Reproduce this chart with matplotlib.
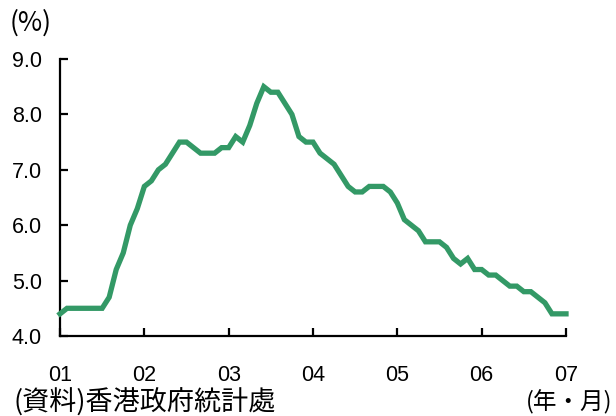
import matplotlib
matplotlib.use("Agg")
import matplotlib.pyplot as plt
import numpy as np

# Monthly unemployment rate (%), Jan 2001 .. Jan 2007
rates = [
    4.4, 4.5, 4.5, 4.5, 4.5, 4.5, 4.5, 4.7, 5.2, 5.5, 6.0, 6.3,   # 2001
    6.7, 6.8, 7.0, 7.1, 7.3, 7.5, 7.5, 7.4, 7.3, 7.3, 7.3, 7.4,   # 2002
    7.4, 7.6, 7.5, 7.8, 8.2, 8.5, 8.4, 8.4, 8.2, 8.0, 7.6, 7.5,   # 2003
    7.5, 7.3, 7.2, 7.1, 6.9, 6.7, 6.6, 6.6, 6.7, 6.7, 6.7, 6.6,   # 2004
    6.4, 6.1, 6.0, 5.9, 5.7, 5.7, 5.7, 5.6, 5.4, 5.3, 5.4, 5.2,   # 2005
    5.2, 5.1, 5.1, 5.0, 4.9, 4.9, 4.8, 4.8, 4.7, 4.6, 4.4, 4.4,   # 2006
    4.4,                                                          # 2007
]
year_labels = ["01", "02", "03", "04", "05", "06", "07"]
y_ticks = [4.0, 5.0, 6.0, 7.0, 8.0, 9.0]

months = np.arange(len(rates))

cjk = ["Noto Sans CJK JP", "DejaVu Sans"]
num_font = ["Liberation Sans", "DejaVu Sans"]

fig = plt.figure(figsize=(6.16, 4.16), dpi=100)
ax = fig.add_axes([60 / 616, 1 - 336 / 416, (566 - 60) / 616, (336 - 59) / 416])

ax.plot(months, rates, color="#339966", lw=3.8, solid_joinstyle="miter",
        clip_on=False, zorder=3)

ax.set_xlim(0, 72)
ax.set_ylim(4.0, 9.0)
ax.set_xticks(np.arange(0, 73, 12))
ax.set_xticklabels(year_labels)
ax.set_yticks(y_ticks)
ax.set_yticklabels([f"{v:.1f}" for v in y_ticks])

for s in ["top", "right"]:
    ax.spines[s].set_visible(False)
for s in ["left", "bottom"]:
    ax.spines[s].set_linewidth(1.6)
    ax.spines[s].set_color("black")

ax.tick_params(axis="both", direction="in", length=6, width=1.6, colors="black")
ax.tick_params(axis="x", pad=21)
ax.tick_params(axis="y", pad=13)
for lab in ax.get_xticklabels() + ax.get_yticklabels():
    lab.set_family(num_font)
    lab.set_fontsize(15.5)

fig.text(10 / 616, 1 - 23 / 416, "(%)", family=cjk, fontsize=19,
         ha="left", va="center")
fig.text(612 / 616, 1 - 402 / 416, "(年・月)", family=cjk, fontsize=17,
         ha="right", va="center")
fig.text(14 / 616, 1 - 389 / 416, "(資料)香港政府統計處", family=cjk, fontsize=19.5,
         ha="left", va="top")

fig.savefig("out.png", dpi=100)
